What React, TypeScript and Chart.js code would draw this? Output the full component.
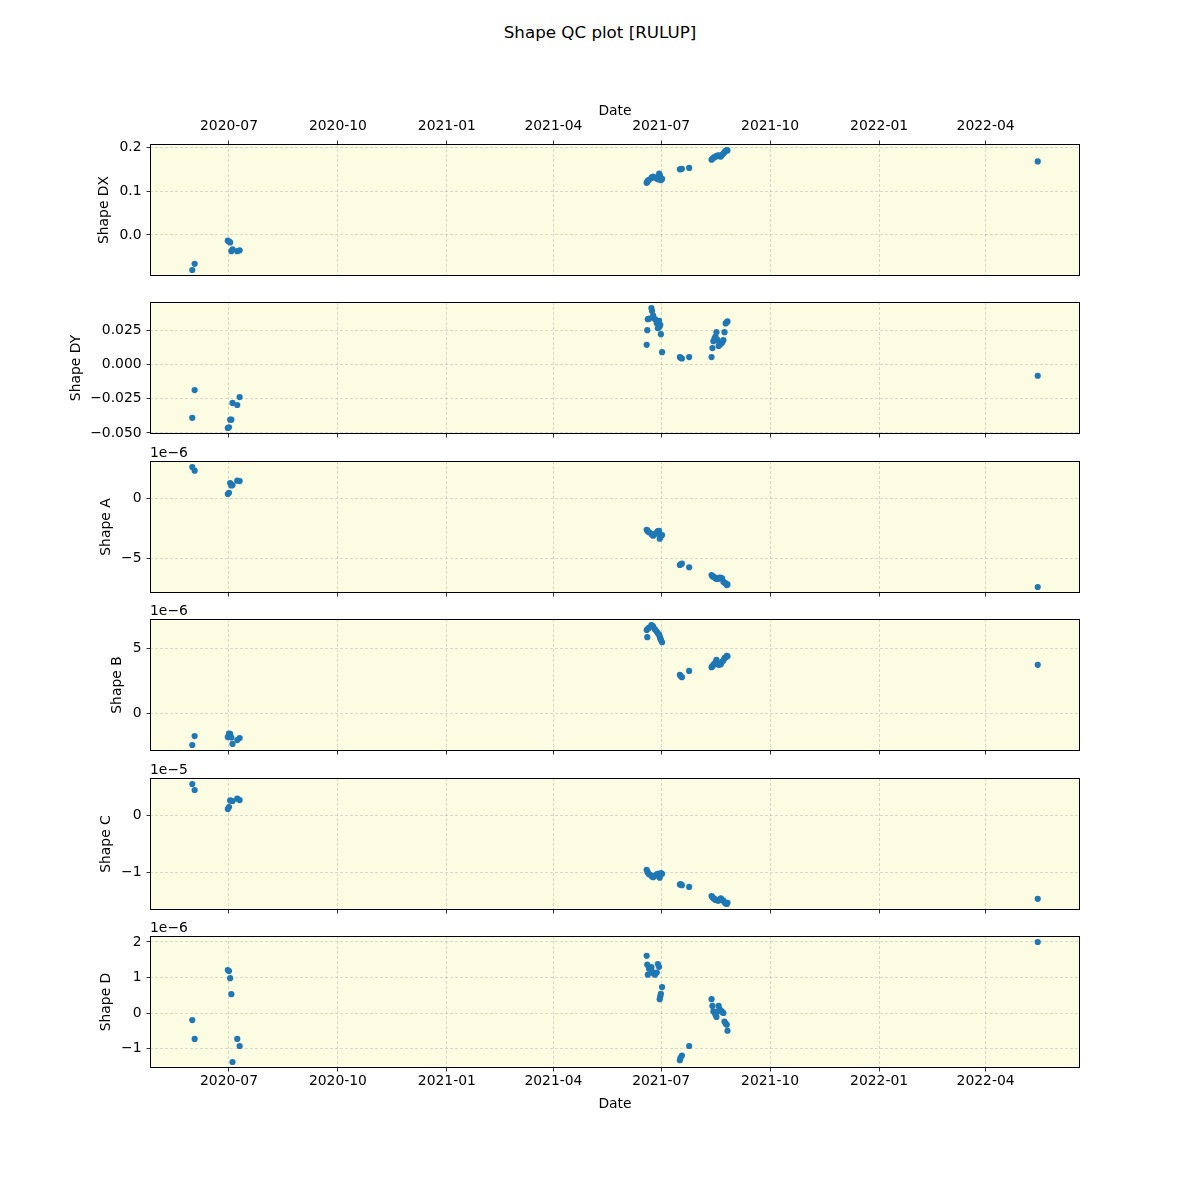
import React, { useEffect, useRef } from 'react';
import { Chart, registerables } from 'chart.js';

Chart.register(...registerables);

// ---------------- data ----------------
const dates = [
  '2020-05-31T00:00', '2020-06-02T00:00',
  '2020-06-30T00:00', '2020-07-01T00:00', '2020-07-02T00:00', '2020-07-03T00:00', '2020-07-04T00:00', '2020-07-08T00:00', '2020-07-10T00:00',
  '2021-06-18T18:00', '2021-06-19T06:00', '2021-06-19T18:00', '2021-06-20T19:00', '2021-06-22T18:00', '2021-06-23T06:00', '2021-06-24T06:00',
  '2021-06-25T18:00', '2021-06-27T07:00', '2021-06-28T05:00', '2021-06-29T06:00', '2021-06-29T18:00', '2021-06-30T06:00', '2021-06-30T18:00', '2021-07-01T18:00',
  '2021-07-16T19:00', '2021-07-17T09:00', '2021-07-18T12:00', '2021-07-24T15:00',
  '2021-08-12T13:00', '2021-08-13T07:00', '2021-08-14T02:00', '2021-08-15T00:00', '2021-08-15T20:00', '2021-08-16T17:00', '2021-08-17T13:00', '2021-08-18T13:00',
  '2021-08-19T09:00', '2021-08-20T10:00', '2021-08-21T12:00', '2021-08-22T12:00', '2021-08-23T11:00', '2021-08-24T11:00', '2021-08-25T09:00', '2021-08-26T00:00',
  '2022-05-15T00:00',
];

const shapeDX = [
  -0.080, -0.066,
  -0.013, -0.015, -0.017, -0.037, -0.033, -0.037, -0.035,
  0.119, 0.121, 0.124, 0.126, 0.130, 0.132, 0.133, 0.131, 0.129, 0.127, 0.140, 0.137, 0.132, 0.125, 0.128,
  0.150, 0.150, 0.151, 0.153,
  0.172, 0.174, 0.176, 0.178, 0.179, 0.180, 0.181, 0.182, 0.180, 0.179, 0.183, 0.186, 0.189, 0.192, 0.194, 0.193,
  0.168,
];

const shapeDY = [
  -0.0390, -0.0187,
  -0.0464, -0.0459, -0.0403, -0.0403, -0.0281, -0.0296, -0.0238,
  0.0144, 0.0251, 0.0331, 0.0335, 0.0413, 0.0391, 0.0357, 0.0331, 0.0302, 0.0265, 0.0319, 0.0277, 0.0290, 0.0222, 0.0090,
  0.0054, 0.0050, 0.0044, 0.0054,
  0.0054, 0.0120, 0.0170, 0.0190, 0.0204, 0.0236, 0.0180, 0.0136, 0.0145, 0.0151, 0.0160, 0.0178, 0.0236, 0.0300, 0.0309, 0.0315,
  -0.0082,
];

// Shape A, B, D in units of 1e-6; Shape C in units of 1e-5
const shapeA = [
  2.67, 2.36,
  0.40, 0.50, 1.32, 1.12, 1.15, 1.52, 1.49,
  -2.60, -2.65, -2.75, -2.81, -2.95, -3.00, -3.10, -2.95, -2.85, -2.72, -2.70, -3.35, -3.25, -3.10, -3.05,
  -5.56, -5.50, -5.45, -5.75,
  -6.40, -6.50, -6.55, -6.60, -6.68, -6.72, -6.74, -6.70, -6.63, -6.65, -6.68, -6.97, -7.05, -7.10, -7.25, -7.19,
  -7.41,
];

const shapeB = [
  -2.46, -1.77,
  -1.85, -1.59, -1.60, -1.88, -2.38, -2.08, -1.92,
  6.40, 5.85, 6.50, 6.58, 6.79, 6.75, 6.66, 6.45, 6.28, 6.15, 6.05, 5.89, 5.75, 5.64, 5.46,
  2.95, 2.85, 2.77, 3.25,
  3.54, 3.60, 3.72, 3.80, 3.92, 4.10, 3.80, 3.72, 3.75, 3.77, 3.97, 4.05, 4.23, 4.30, 4.41, 4.38,
  3.72,
];

const shapeC = [
  0.544, 0.439,
  0.105, 0.140, 0.256, 0.250, 0.246, 0.286, 0.263,
  -0.96, -0.99, -1.01, -1.04, -1.06, -1.08, -1.09, -1.06, -1.04, -1.03, -1.08, -1.10, -1.05, -1.02, -1.03,
  -1.22, -1.21, -1.23, -1.26,
  -1.42, -1.44, -1.46, -1.47, -1.49, -1.49, -1.50, -1.50, -1.48, -1.46, -1.49, -1.50, -1.53, -1.55, -1.56, -1.54,
  -1.47,
];

const shapeD = [
  -0.20, -0.73,
  1.21, 1.18, 0.98, 0.53, -1.38, -0.73, -0.93,
  1.61, 1.36, 1.08, 1.25, 1.29, 1.17, 1.12, 1.08, 1.14, 1.38, 1.30, 0.39, 0.47, 0.54, 0.73,
  -1.33, -1.26, -1.20, -0.93,
  0.39, 0.20, 0.05, 0.02, -0.05, -0.11, 0.04, 0.20, 0.10, 0.07, 0.03, 0.00, -0.24, -0.30, -0.33, -0.50,
  2.00,
];

const xTickLabels = ['2020-07', '2020-10', '2021-01', '2021-04', '2021-07', '2021-10', '2022-01', '2022-04'];

const dxTicks = [0, 0.1, 0.2];
const dxTickLabels = ['0.0', '0.1', '0.2'];
const dyTicks = [-0.05, -0.025, 0, 0.025];
const dyTickLabels = ['\u22120.050', '\u22120.025', '0.000', '0.025'];
const aTicks = [-5, 0];
const aTickLabels = ['\u22125', '0'];
const bTicks = [0, 5];
const bTickLabels = ['0', '5'];
const cTicks = [-1, 0];
const cTickLabels = ['\u22121', '0'];
const dTicks = [-1, 0, 1, 2];
const dTickLabels = ['\u22121', '0', '1', '2'];

const titleText = 'Shape QC plot [RULUP]';

// ---------------- layout / style ----------------
const FONT = "'DejaVu Sans', 'Liberation Sans', sans-serif";
const FS = 13.9;
const BG = '#fcfce3';
const POINT = '#1f77b4';
const GRID = 'rgba(176,176,176,0.6)';

const panels = [
  { label: 'Shape DX', values: shapeDX, ticks: dxTicks, tickLabels: dxTickLabels, offset: '', labelX: 104 },
  { label: 'Shape DY', values: shapeDY, ticks: dyTicks, tickLabels: dyTickLabels, offset: '', labelX: 76 },
  { label: 'Shape A', values: shapeA, ticks: aTicks, tickLabels: aTickLabels, offset: '1e\u22126', labelX: 106 },
  { label: 'Shape B', values: shapeB, ticks: bTicks, tickLabels: bTickLabels, offset: '1e\u22126', labelX: 117 },
  { label: 'Shape C', values: shapeC, ticks: cTicks, tickLabels: cTickLabels, offset: '1e\u22125', labelX: 106 },
  { label: 'Shape D', values: shapeD, ticks: dTicks, tickLabels: dTickLabels, offset: '1e\u22126', labelX: 106 },
];

const PLOT_TOPS = [144, 302, 461, 619, 778, 936];
const PLOT_H = 132;
const PLOT_L = 150;
const PLOT_R = 1080;

const toMs = (s: string) => Date.parse(s + 'Z');
const xVals = dates.map(toMs);
const xTickVals = xTickLabels.map((l) => Date.parse(l + '-01T00:00Z'));

function padRange(vals: number[]) {
  const lo = Math.min(...vals);
  const hi = Math.max(...vals);
  const m = (hi - lo) * 0.05;
  return [lo - m, hi + m];
}

const [xMin, xMax] = padRange(xVals);

const areaPlugin = {
  id: 'areaPlugin',
  beforeDraw(chart: any) {
    const { ctx, chartArea } = chart;
    ctx.save();
    ctx.fillStyle = BG;
    ctx.fillRect(chartArea.left, chartArea.top, chartArea.right - chartArea.left, chartArea.bottom - chartArea.top);
    ctx.restore();
  },
  afterDraw(chart: any) {
    const { ctx, chartArea } = chart;
    ctx.save();
    ctx.strokeStyle = '#000';
    ctx.lineWidth = 1;
    const l = Math.round(chartArea.left) + 0.5;
    const t = Math.round(chartArea.top) + 0.5;
    const r = Math.round(chartArea.right) - 0.5;
    const b = Math.round(chartArea.bottom) - 0.5;
    ctx.strokeRect(l, t, r - l, b - t);
    const off = chart.options.plugins.areaPlugin?.offset;
    if (off) {
      ctx.fillStyle = '#000';
      ctx.font = `${FS}px ${FONT}`;
      ctx.textAlign = 'left';
      ctx.textBaseline = 'alphabetic';
      ctx.fillText(off, chartArea.left, chartArea.top - 4);
    }
    ctx.restore();
  },
};

function Panel({ idx }: { idx: number }) {
  const ref = useRef<HTMLCanvasElement>(null);
  const p = panels[idx];
  const isFirst = idx === 0;
  const isLast = idx === panels.length - 1;
  const plotTop = PLOT_TOPS[idx];
  const canvasTop = isFirst ? 40 : plotTop - 30;
  const canvasBottom = isLast ? 1200 : plotTop + PLOT_H + 20;
  const height = canvasBottom - canvasTop;

  useEffect(() => {
    if (!ref.current) return;
    const [yMin, yMax] = padRange(p.values);
    const padLeft = p.labelX - FS * 1.2 / 2;
    const xAxisH = isFirst ? plotTop - canvasTop : canvasBottom - (plotTop + PLOT_H);
    const chart = new Chart(ref.current, {
      type: 'scatter',
      data: {
        datasets: [
          {
            data: xVals.map((x, i) => ({ x, y: p.values[i] })),
            backgroundColor: POINT,
            borderColor: POINT,
            borderWidth: 0,
            pointRadius: 3.1,
            pointHoverRadius: 3.1,
          },
        ],
      },
      plugins: [areaPlugin],
      options: {
        animation: false,
        responsive: false,
        maintainAspectRatio: false,
        events: [],
        layout: {
          padding: {
            top: isFirst ? 0 : 30,
            bottom: isFirst ? canvasBottom - (plotTop + PLOT_H) : 0,
            left: padLeft,
            right: 1200 - PLOT_R,
          },
        },
        plugins: {
          legend: { display: false },
          tooltip: { enabled: false },
          title: { display: false },
          // @ts-ignore
          areaPlugin: { offset: p.offset },
        },
        scales: {
          x: {
            type: 'linear',
            position: isFirst ? 'top' : 'bottom',
            min: xMin,
            max: xMax,
            afterBuildTicks: (scale: any) => {
              scale.ticks = xTickVals.map((v) => ({ value: v }));
            },
            afterFit: (scale: any) => {
              scale.height = xAxisH;
            },
            ticks: {
              display: isFirst || isLast,
              color: '#000',
              font: { family: FONT, size: FS },
              padding: isFirst ? 6 : 2,
              maxRotation: 0,
              autoSkip: false,
              callback: (v: any) => {
                const i = xTickVals.indexOf(Number(v));
                return i >= 0 ? xTickLabels[i] : '';
              },
            },
            grid: {
              color: GRID,
              lineWidth: 0.8,
              drawTicks: true,
              tickLength: 3.5,
              tickColor: '#000',
              tickWidth: 0.8,
              tickBorderDash: [],
            },
            border: { display: false, color: '#000', width: 1, dash: [3, 2] },
            title: {
              display: isFirst || isLast,
              text: 'Date',
              color: '#000',
              font: { family: FONT, size: FS },
              padding: isFirst ? { top: 63.5, bottom: 0 } : { top: 0, bottom: 87.7 },
            },
          },
          y: {
            type: 'linear',
            position: 'left',
            min: yMin,
            max: yMax,
            afterBuildTicks: (scale: any) => {
              scale.ticks = p.ticks.map((v) => ({ value: v }));
            },
            afterFit: (scale: any) => {
              scale.width = PLOT_L - padLeft;
            },
            ticks: {
              color: '#000',
              font: { family: FONT, size: FS },
              padding: 4.9,
              callback: (v: any) => {
                const i = p.ticks.findIndex((t) => Math.abs(t - Number(v)) < 1e-9);
                return i >= 0 ? p.tickLabels[i] : '';
              },
            },
            grid: {
              color: GRID,
              lineWidth: 0.8,
              drawTicks: true,
              tickLength: 3.5,
              tickColor: '#000',
              tickWidth: 0.8,
              tickBorderDash: [],
            },
            border: { display: false, color: '#000', width: 1, dash: [3, 2] },
            title: {
              display: true,
              text: p.label,
              color: '#000',
              font: { family: FONT, size: FS },
              padding: { top: 0, bottom: 0 },
            },
          },
        },
      } as any,
    });
    return () => chart.destroy();
  }, []);

  return (
    <canvas
      ref={ref}
      width={1200}
      height={height}
      style={{ position: 'absolute', left: 0, top: canvasTop, width: 1200, height }}
    />
  );
}

export default function App() {
  return (
    <div style={{ position: 'absolute', left: 0, top: 0, width: 1200, height: 1200, background: '#fff', overflow: 'hidden' }}>
      <div
        style={{
          position: 'absolute',
          left: 0,
          top: 22,
          width: 1200,
          textAlign: 'center',
          fontFamily: FONT,
          fontSize: 16.7,
          lineHeight: '20px',
          color: '#000',
        }}
      >
        {titleText}
      </div>
      {panels.map((_, i) => (
        <Panel key={i} idx={i} />
      ))}
    </div>
  );
}
